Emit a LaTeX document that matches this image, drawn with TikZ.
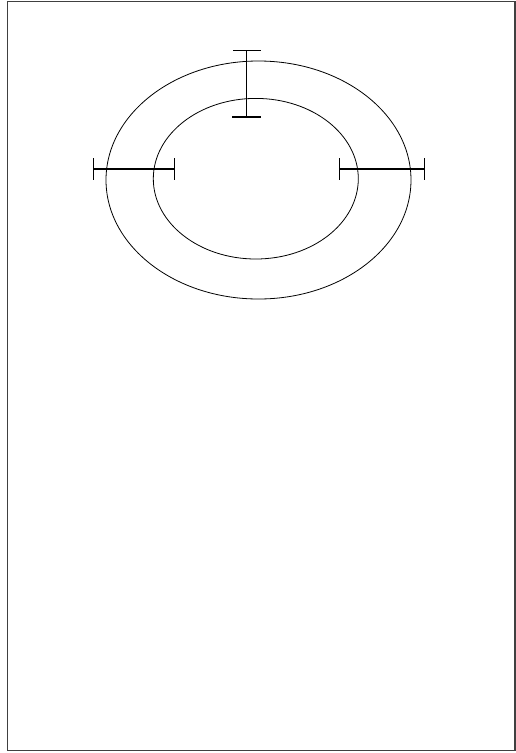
\documentclass[tikz,border=0pt]{standalone}
\begin{document}
\begin{tikzpicture}[x=1pt,y=-1pt,
  ring/.style={draw=black,line width=0.8pt},
  bar/.style={draw=black,line width=1.1pt},
  frame/.style={draw=black!75,line width=1.4pt}]
\useasboundingbox (0,0) rectangle (516,753);
\draw[frame] (7.3,1.6) rectangle (515,750.6);
% rings
\draw[ring] (258.5,180) ellipse [x radius=152.5, y radius=119];
\draw[ring] (255.8,178.7) ellipse [x radius=102.5, y radius=80.3];
% vertical error bar
\draw[bar] (246.8,50.7) -- (246.8,117);
\draw[bar] (233,50.7) -- (261,50.7);
\draw[bar] (232,117) -- (261,117);
% left bar
\draw[bar] (93.3,169) -- (174.3,169);
\draw[bar] (93.3,158) -- (93.3,180);
\draw[bar] (174.3,158) -- (174.3,180);
% right bar
\draw[bar] (339.3,169) -- (424.3,169);
\draw[bar] (339.3,158) -- (339.3,180);
\draw[bar] (424.3,158) -- (424.3,180);
\end{tikzpicture}
\end{document}
